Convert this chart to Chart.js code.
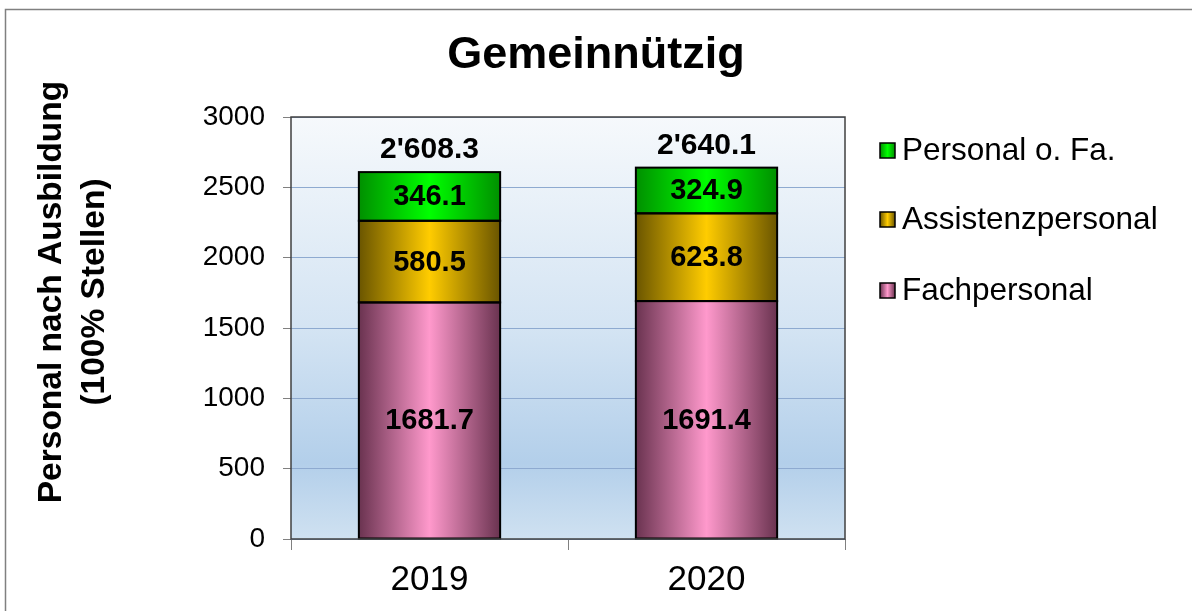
<!DOCTYPE html>
<html>
<head>
<meta charset="utf-8">
<script src="https://cdn.jsdelivr.net/npm/chart.js@4.4.1/dist/chart.umd.min.js"></script>
<style>
  html, body { margin: 0; padding: 0; background: #fff; }
  #wrap { width: 1192px; height: 611px; position: relative; }
</style>
</head>
<body>
<div id="wrap"><canvas id="c"></canvas></div>
<script>
// ── Daten ─────────────────────────────────────────────
const years        = ['2019', '2020'];
const fachpersonal = [1681.7, 1691.4];
const assistenz    = [580.5, 623.8];
const ohneFa       = [346.1, 324.9];
const yTicks       = [0, 500, 1000, 1500, 2000, 2500, 3000];

const FONT = "'Liberation Sans', Arial, sans-serif";

// Farben: [Rand dunkel, Mitte hell]
const PINK  = ['#6a3350', '#ff99cc'];
const GOLD  = ['#6a5500', '#ffcc00'];
const GREEN = ['#009000', '#00ff00'];

function fmtTotal(v) {
  const s = v.toFixed(1);
  const [i, d] = s.split('.');
  return i.replace(/\B(?=(\d{3})+(?!\d))/g, "'") + '.' + d;
}

function barGradient(ctx, x0, x1, col) {
  const g = ctx.createLinearGradient(x0, 0, x1, 0);
  g.addColorStop(0, col[0]);
  g.addColorStop(0.5, col[1]);
  g.addColorStop(1, col[0]);
  return g;
}

// Farbverlauf je Balken, aus der x-Skala berechnet
function bgFor(col) {
  return c => {
    const chart = c.chart, a = chart.chartArea, sx = chart.scales.x;
    if (!a || !sx || c.dataIndex === undefined) return col[1];
    const cw = (a.right - a.left) / years.length;
    const bw = cw * 0.51;
    const cx = sx.getPixelForValue(c.dataIndex);
    return barGradient(chart.ctx, cx - bw / 2, cx + bw / 2, col);
  };
}

const plotBg = {
  id: 'plotBg',
  beforeDraw(chart) {
    const {ctx, chartArea: a} = chart;
    const g = ctx.createLinearGradient(0, a.top, 0, a.bottom);
    g.addColorStop(0, '#f6f9fc');
    g.addColorStop(0.5, '#d4e4f3');
    g.addColorStop(0.82, '#b3cfea');
    g.addColorStop(1, '#cfe1f1');
    ctx.save();
    ctx.fillStyle = g;
    ctx.fillRect(a.left, a.top, a.right - a.left, a.bottom - a.top);
    // äusserer Rahmen
    ctx.strokeStyle = '#808080';
    ctx.lineWidth = 1.5;
    ctx.strokeRect(5.5, 9.5, 1400, 800);
    ctx.restore();
  },
  afterDraw(chart) {
    const {ctx, chartArea: a} = chart;
    ctx.save();
    ctx.strokeStyle = '#404040';
    ctx.lineWidth = 1.5;
    ctx.strokeRect(a.left, a.top, a.right - a.left, a.bottom - a.top);
    ctx.restore();
  },
};

const labels = {
  id: 'labels',
  afterDatasetsDraw(chart) {
    const ctx = chart.ctx;
    ctx.save();
    // Umrandung der Segmente
    ctx.strokeStyle = '#000';
    ctx.lineWidth = 2;
    chart.data.datasets.forEach((ds, i) => {
      chart.getDatasetMeta(i).data.forEach(el => {
        ctx.strokeRect(el.x - el.width / 2, el.y, el.width, el.base - el.y);
      });
    });
    ctx.fillStyle = '#000';
    ctx.textAlign = 'center';
    ctx.textBaseline = 'middle';
    ctx.font = 'bold 29px ' + FONT;
    chart.data.datasets.forEach((ds, i) => {
      chart.getDatasetMeta(i).data.forEach((el, j) => {
        const mid = (el.y + el.base) / 2;
        ctx.fillText(ds.data[j].toFixed(1), el.x, mid + 1);
      });
    });
    // Summen über den Balken
    ctx.font = 'bold 30px ' + FONT;
    const last = chart.getDatasetMeta(chart.data.datasets.length - 1).data;
    years.forEach((_, j) => {
      const tot = fachpersonal[j] + assistenz[j] + ohneFa[j];
      ctx.fillText(fmtTotal(tot), last[j].x, last[j].y - 22);
    });
    ctx.restore();
  },
};

const sideTexts = {
  id: 'sideTexts',
  afterDraw(chart) {
    const ctx = chart.ctx;
    ctx.save();
    // Y-Achsentitel
    ctx.fillStyle = '#000';
    ctx.font = 'bold 33.5px ' + FONT;
    ctx.textAlign = 'center';
    ctx.textBaseline = 'middle';
    ctx.translate(0, 292);
    ctx.rotate(-Math.PI / 2);
    ctx.fillText('Personal nach Ausbildung', 0, 52);
    ctx.fillText('(100% Stellen)', 0, 95);
    ctx.restore();

    // Legende (umgekehrte Reihenfolge)
    ctx.save();
    ctx.font = '31.5px ' + FONT;
    ctx.textBaseline = 'middle';
    ctx.textAlign = 'left';
    const items = chart.data.datasets.slice().reverse();
    const cols = [GREEN, GOLD, PINK];
    const ys = [150, 219, 290];
    items.forEach((ds, k) => {
      const y = ys[k];
      ctx.fillStyle = barGradient(ctx, 880, 895, cols[k]);
      ctx.fillRect(880, y - 7, 15, 15);
      ctx.strokeStyle = '#000';
      ctx.lineWidth = 1.5;
      ctx.strokeRect(880, y - 7, 15, 15);
      ctx.fillStyle = '#000';
      ctx.fillText(ds.label, 902, y + 1);
    });
    ctx.restore();
  },
};

const common = {
  borderWidth: 0,
  categoryPercentage: 1,
  barPercentage: 0.51,
};

new Chart(document.getElementById('c'), {
  type: 'bar',
  data: {
    labels: years,
    datasets: [
      {label: 'Fachpersonal',      data: fachpersonal, backgroundColor: bgFor(PINK),  ...common},
      {label: 'Assistenzpersonal', data: assistenz,    backgroundColor: bgFor(GOLD),  ...common},
      {label: 'Personal o. Fa.',   data: ohneFa,       backgroundColor: bgFor(GREEN), ...common},
    ],
  },
  options: {
    responsive: true,
    maintainAspectRatio: false,
    animation: false,
    layout: {padding: {left: 0, right: 0, top: 0, bottom: 0}},
    plugins: {
      legend: {display: false},
      tooltip: {enabled: false},
      title: {
        display: true,
        text: 'Gemeinnützig',
        color: '#000',
        font: {family: FONT, size: 45, weight: 'bold'},
        padding: {top: 29, bottom: 34},
      },
    },
    scales: {
      x: {
        stacked: true,
        grid: {display: true, drawOnChartArea: false, tickLength: 11, tickColor: '#808080', offset: true},
        border: {display: false},
        ticks: {color: '#000', font: {family: FONT, size: 35}, padding: 9},
        afterFit: s => { s.height = 72; },
      },
      y: {
        stacked: true,
        min: 0,
        max: 3000,
        afterBuildTicks: s => { s.ticks = yTicks.map(v => ({value: v})); },
        grid: {color: '#8eaad0', tickLength: 8, tickColor: '#808080'},
        border: {display: false},
        ticks: {color: '#000', font: {family: FONT, size: 28}, padding: 18, callback: v => String(v)},
        afterFit: s => { s.width = 291; },
      },
      pad: {
        type: 'linear',
        position: 'right',
        display: true,
        grid: {display: false},
        border: {display: false},
        ticks: {display: false},
        afterFit: s => { s.width = 347; },
      },
    },
  },
  plugins: [plotBg, labels, sideTexts],
});
</script>
</body>
</html>
